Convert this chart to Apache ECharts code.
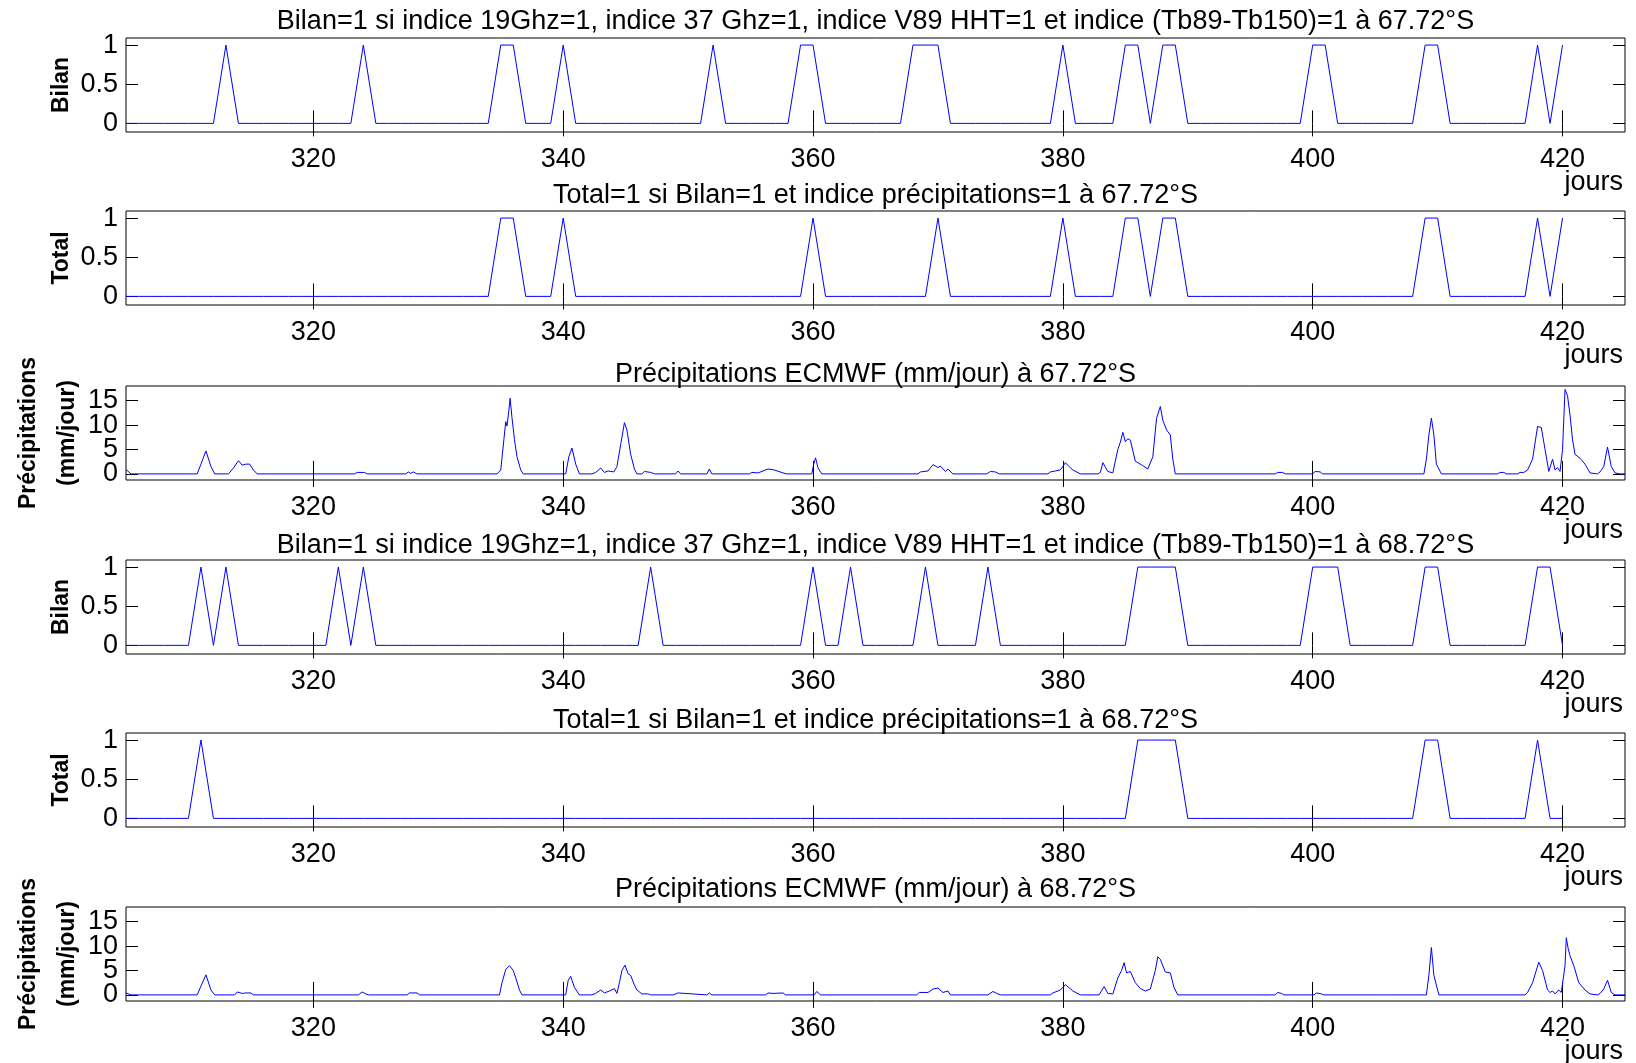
<!DOCTYPE html>
<html>
<head>
<meta charset="utf-8">
<script src="https://cdn.jsdelivr.net/npm/echarts@6/dist/echarts.min.js"></script>
<style>
html,body{margin:0;padding:0;background:#fff;}
#chart{width:1636px;height:1063px;}
</style>
</head>
<body>
<div id="chart"></div>
<script>
// ---------- DATA ----------
const firstDay = 305; // daily series start at day 305, end at 420
const xTicks = [320, 340, 360, 380, 400, 420];
const binTicks = [0, 0.5, 1];
const precipTicks = [0, 5, 10, 15];

const bilan67 = [
  0,0,0,0,0,0,0,0,1,0,
  0,0,0,0,0,0,0,0,0,1,
  0,0,0,0,0,0,0,0,0,0,
  1,1,0,0,0,1,0,0,0,0,
  0,0,0,0,0,0,0,1,0,0,
  0,0,0,0,1,1,0,0,0,0,
  0,0,0,1,1,1,0,0,0,0,
  0,0,0,0,0,1,0,0,0,0,
  1,1,0,1,1,0,0,0,0,0,
  0,0,0,0,0,1,1,0,0,0,
  0,0,0,0,1,1,0,0,0,0,
  0,0,0,1,0,1
];
const total67 = [
  0,0,0,0,0,0,0,0,0,0,
  0,0,0,0,0,0,0,0,0,0,
  0,0,0,0,0,0,0,0,0,0,
  1,1,0,0,0,1,0,0,0,0,
  0,0,0,0,0,0,0,0,0,0,
  0,0,0,0,0,1,0,0,0,0,
  0,0,0,0,0,1,0,0,0,0,
  0,0,0,0,0,1,0,0,0,0,
  1,1,0,1,1,0,0,0,0,0,
  0,0,0,0,0,0,0,0,0,0,
  0,0,0,0,1,1,0,0,0,0,
  0,0,0,1,0,1
];
const bilan68 = [
  0,0,0,0,0,0,1,0,1,0,
  0,0,0,0,0,0,0,1,0,1,
  0,0,0,0,0,0,0,0,0,0,
  0,0,0,0,0,0,0,0,0,0,
  0,0,1,0,0,0,0,0,0,0,
  0,0,0,0,0,1,0,0,1,0,
  0,0,0,0,1,0,0,0,0,1,
  0,0,0,0,0,0,0,0,0,0,
  0,1,1,1,1,0,0,0,0,0,
  0,0,0,0,0,1,1,1,0,0,
  0,0,0,0,1,1,0,0,0,0,
  0,0,0,1,1,0
];
const total68 = [
  0,0,0,0,0,0,1,0,0,0,
  0,0,0,0,0,0,0,0,0,0,
  0,0,0,0,0,0,0,0,0,0,
  0,0,0,0,0,0,0,0,0,0,
  0,0,0,0,0,0,0,0,0,0,
  0,0,0,0,0,0,0,0,0,0,
  0,0,0,0,0,0,0,0,0,0,
  0,0,0,0,0,0,0,0,0,0,
  0,1,1,1,1,0,0,0,0,0,
  0,0,0,0,0,0,0,0,0,0,
  0,0,0,0,1,1,0,0,0,0,
  0,0,0,1,0,0
];

const precipDays67 = [305,305.4,310.7,311.0,311.4,311.8,312.1,313.2,313.6,314.0,314.3,314.6,314.9,315.2,315.5,
  323.3,323.5,324.1,324.3,327.4,327.6,327.8,328.0,328.3,
  334.7,335.0,335.25,335.4,335.5,335.65,335.75,335.9,336.1,336.3,336.6,336.8,
  340.2,340.45,340.7,341.0,341.3,342.3,342.6,343.0,343.3,343.6,344.05,344.3,344.6,344.9,345.1,345.4,345.7,345.9,
  346.3,346.5,347.0,347.3,349.0,349.2,349.4,351.5,351.7,351.9,354.9,355.1,355.6,356.0,356.4,356.9,357.6,357.9,
  359.9,360.05,360.2,360.4,360.7,368.4,368.6,369.2,369.6,370.0,370.2,370.6,370.8,371.2,373.9,374.2,374.6,374.9,
  378.8,379.0,379.4,379.8,380.2,380.5,380.8,381.4,382.8,383.0,383.2,383.6,384.0,384.4,384.6,384.8,385.0,385.2,385.4,
  385.8,386.4,386.8,387.2,387.5,387.8,388.0,388.3,388.6,388.8,389.0,397.0,397.2,397.6,397.8,400.0,400.2,400.6,400.8,
  408.9,409.1,409.3,409.5,409.7,409.9,410.3,414.8,415.0,415.3,415.5,416.4,416.6,416.9,417.2,417.6,418.0,418.3,418.6,
  418.9,419.2,419.4,419.6,419.8,420.0,420.2,420.4,420.6,420.8,421.0,421.4,421.8,422.2,422.8,423.0,423.3,423.6,423.9,
  424.2,424.6,425];
const precipVals67 = [0.9,0,0,2,4.7,1.5,0,0,1.2,2.7,1.8,2.0,2.0,0.8,0,
  0,0.3,0.3,0,0,0.4,0.1,0.4,0,
  0,0.8,7,10.7,9.8,13,15.5,11.5,7,3.5,0.8,0,
  0,3.5,5.3,2,0,0,0.3,1.2,0.3,0.6,0.4,1.5,6,10.5,9,4,1,0,
  0,0.5,0.3,0,0,0.6,0,0,1.0,0,0,0.3,0.2,0.6,1.0,0.8,0.2,0,
  0,2,3.3,1.2,0,0,0.4,0.6,1.9,1.3,1.6,0.5,1.0,0,0,0.5,0.4,0,
  0,0.4,0.6,0.8,2.3,1.5,0.8,0,0,0.3,2.3,0.5,0.2,5,6.5,8.5,6.6,7.2,6.9,
  2.6,1.7,1.0,3.5,11.4,13.8,11,9,8.0,3,0,0,0.3,0.3,0,0,0.5,0.4,0,
  0,3,8,11.4,8,2,0,0,0.3,0.3,0,0,0.3,0.3,0.8,3,9.7,9.5,5,
  0.5,3,0.8,1.3,0.5,5,17.3,16,12,7,4,3.2,2,0.2,0,0.4,1.5,5.5,1.5,
  0.2,0,0];

const precipDays68 = [305,305.4,310.7,311.0,311.4,311.8,312.1,313.7,313.9,314.3,314.6,315.0,315.2,
  323.6,323.9,324.2,324.4,327.5,327.7,328.3,328.5,334.9,335.1,335.4,335.7,336.0,336.2,336.5,336.7,
  340.2,340.4,340.6,340.9,341.3,342.3,342.6,343.0,343.3,343.5,343.8,344.1,344.3,344.5,344.7,344.95,345.2,345.4,
  345.7,345.9,346.3,346.8,347.0,348.8,348.9,349.2,349.3,351.5,351.7,351.9,356.2,356.4,356.8,357.6,357.8,
  360.1,360.3,360.6,368.3,368.5,369.2,369.6,370.0,370.4,370.8,371.0,374.0,374.4,374.8,375.0,
  379.0,379.2,379.8,380.2,380.8,381.4,382.9,383.0,383.3,383.6,384.0,384.4,384.7,384.9,385.1,385.4,385.8,386.2,
  386.6,387.0,387.4,387.6,387.8,388.2,388.6,388.9,389.2,397.0,397.2,397.5,397.7,400.1,400.3,400.7,400.9,
  405.6,405.7,405.9,409.1,409.3,409.5,409.7,410.1,417.0,417.2,417.6,418.1,418.4,418.8,419.0,419.2,419.4,
  419.7,419.9,420.2,420.3,420.45,420.6,420.9,421.3,421.8,422.2,422.8,423.0,423.3,423.6,423.9,424.2,425];
const precipVals68 = [0.4,0,0,1.8,4.1,1,0,0,0.6,0.3,0.4,0.4,0,
  0,0.6,0.2,0,0,0.4,0.4,0,0,2.5,5.2,6.0,5,3.5,1,0,
  0,3,3.8,1.5,0,0,0.3,1.0,0.4,0.6,0.9,1.3,0.3,2.5,5,6.1,4.3,4.0,
  2,1.0,0.2,0.2,0,0,0.4,0.4,0,0,0.4,0,0,0.4,0.3,0.4,0,
  0,0.7,0,0,0.5,0.5,1.2,1.4,0.5,0.8,0,0,0.7,0.2,0,
  0,0.4,1.0,2.1,0.8,0,0,0.4,1.7,0.3,0.2,3.5,5,6.6,4.5,4.8,2.5,1.3,
  0.8,1.2,5,7.8,7.3,4.7,4.5,1.5,0,0,0.5,0.3,0,0,0.4,0.2,0,
  0,0.3,0,0,4,9.7,4,0,0,0.5,2.5,6.7,5,1,0.5,0.8,0.2,
  1,0.5,6,11.7,9.5,8,6,2.5,1,0.2,0,0.3,1.2,3.0,0.5,0,0];

const titles = [
  "Bilan=1 si indice 19Ghz=1, indice 37 Ghz=1, indice V89 HHT=1 et indice (Tb89-Tb150)=1 à 67.72°S",
  "Total=1 si Bilan=1 et indice précipitations=1 à 67.72°S",
  "Précipitations ECMWF (mm/jour) à 67.72°S",
  "Bilan=1 si indice 19Ghz=1, indice 37 Ghz=1, indice V89 HHT=1 et indice (Tb89-Tb150)=1 à 68.72°S",
  "Total=1 si Bilan=1 et indice précipitations=1 à 68.72°S",
  "Précipitations ECMWF (mm/jour) à 68.72°S"
];
const yNames = ["Bilan", "Total", "Précipitations\n(mm/jour)", "Bilan", "Total", "Précipitations\n(mm/jour)"];
const xName = "jours";

// ---------- LAYOUT ----------
const FONT = "Liberation Sans";
const FS = 27;
const L = 126, W = 1499, H = 94;
const tops = [38, 211, 386, 560, 733, 907];
const titleShift = [1, 2, 6, 3, 5, 0];
const kinds = ["bin", "bin", "prec", "bin", "bin", "prec"];

function pairsDaily(vals) { return vals.map((v, i) => [firstDay + i, v]); }
function pairs(days, vals) { return days.map((d, i) => [d, vals[i]]); }
const seriesData = [
  pairsDaily(bilan67), pairsDaily(total67), pairs(precipDays67, precipVals67),
  pairsDaily(bilan68), pairsDaily(total68), pairs(precipDays68, precipVals68)
];

const grid = [], xAxis = [], yAxis = [], series = [], graphic = [];
tops.forEach((t, i) => {
  grid.push({ left: L, top: t, width: W, height: H, show: true, borderColor: "#000", borderWidth: 1,
    backgroundColor: "#fff", containLabel: false, outerBoundsMode: "none" });
  const tickStyle = { show: true, inside: true, length: 13, lineStyle: { color: "#000", width: 1 } };
  xAxis.push({
    type: "value", gridIndex: i, min: 305, max: 425, position: "bottom",
    axisLine: { show: false }, splitLine: { show: false },
    axisTick: Object.assign({ customValues: xTicks }, tickStyle),
    axisLabel: { customValues: xTicks, color: "#000", fontFamily: FONT, fontSize: FS, margin: 14,
      showMinLabel: true, showMaxLabel: true, hideOverlap: false }
  });
  xAxis.push({
    type: "value", gridIndex: i, min: 305, max: 425, position: "top",
    axisLine: { show: false }, splitLine: { show: false },
    axisTick: Object.assign({ customValues: xTicks }, tickStyle),
    axisLabel: { show: false }
  });
  const isBin = kinds[i] === "bin";
  const yt = isBin ? binTicks : precipTicks;
  const ytA = yt.filter((v, k) => k % 2 === 0);
  const ytB = yt.filter((v, k) => k % 2 === 1);
  const ymin = isBin ? -0.11 : -1.25, ymax = isBin ? 1.09 : 18;
  const labelStyle = { color: "#000", fontFamily: FONT, fontSize: FS, margin: 8, hideOverlap: false };
  // left axis A: ticks + half of labels + name
  yAxis.push({
    type: "value", gridIndex: i, min: ymin, max: ymax, position: "left",
    axisLine: { show: false }, splitLine: { show: false },
    axisTick: Object.assign({ customValues: yt }, tickStyle, { length: 12 }),
    axisLabel: Object.assign({ customValues: ytA }, labelStyle),
    name: yNames[i], nameLocation: "middle", nameRotate: 90, nameMoveOverlap: false,
    nameGap: isBin ? 44.5 : 39,
    nameTextStyle: { color: "#000", fontFamily: FONT, fontSize: 23, fontWeight: "bold", lineHeight: 39 }
  });
  // left axis B: the other labels (kept on a separate axis so none is auto-hidden)
  yAxis.push({
    type: "value", gridIndex: i, min: ymin, max: ymax, position: "left", offset: 0,
    axisLine: { show: false }, splitLine: { show: false }, axisTick: { show: false },
    axisLabel: Object.assign({ customValues: ytB }, labelStyle)
  });
  // right axis: ticks only
  yAxis.push({
    type: "value", gridIndex: i, min: ymin, max: ymax, position: "right",
    axisLine: { show: false }, splitLine: { show: false },
    axisTick: Object.assign({ customValues: yt }, tickStyle, { length: 12 }),
    axisLabel: { show: false }
  });
  series.push({
    type: "line", xAxisIndex: 2 * i, yAxisIndex: 3 * i, data: seriesData[i],
    showSymbol: false, symbol: "none", lineStyle: { color: "#0000ff", width: 1 },
    itemStyle: { color: "#0000ff" }, animation: false, clip: true, sampling: null
  });
  graphic.push({
    type: "text", x: L + W / 2, y: t - 4 + titleShift[i],
    style: { text: titles[i], fill: "#000", font: FS + "px '" + FONT + "'", textAlign: "center", textVerticalAlign: "bottom" }
  });
  graphic.push({
    type: "text", x: L + W - 2, y: t + H + 51,
    style: { text: xName, fill: "#000", font: FS + "px '" + FONT + "'", textAlign: "right", textVerticalAlign: "middle" }
  });
});

const chart = echarts.init(document.getElementById("chart"), null, { renderer: "canvas" });
chart.setOption({
  animation: false,
  backgroundColor: "#fff",
  textStyle: { fontFamily: FONT },
  grid, xAxis, yAxis, series, graphic
});
</script>
</body>
</html>
